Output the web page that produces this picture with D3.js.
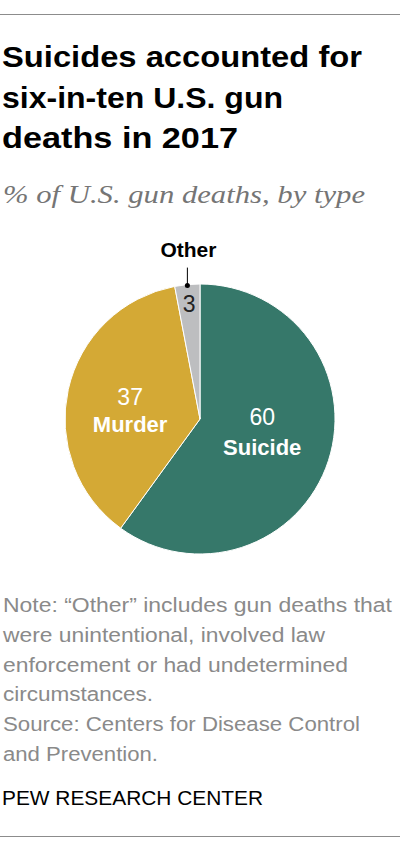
<!DOCTYPE html>
<html>
<head>
<meta charset="utf-8">
<script src="https://cdn.jsdelivr.net/npm/d3@7"></script>
<style>
  html, body { margin: 0; padding: 0; background: #fff; }
  svg { display: block; }
</style>
</head>
<body>
<script>
// ---- data ----
const categories = ["Suicide", "Murder", "Other"];
const values = [60, 37, 3];
const titleLines = ["Suicides accounted for", "six-in-ten U.S. gun", "deaths in 2017"];
const subtitle = "% of U.S. gun deaths, by type";
const noteLines = [
  "Note: \u201cOther\u201d includes gun deaths that",
  "were unintentional, involved law",
  "enforcement or had undetermined",
  "circumstances.",
  "Source: Centers for Disease Control",
  "and Prevention."
];
const footer = "PEW RESEARCH CENTER";

// ---- drawing ----
const W = 400, H = 850;
const svg = d3.select("body").append("svg").attr("width", W).attr("height", H);

// rules
svg.append("line").attr("x1", 0).attr("x2", W).attr("y1", 14.5).attr("y2", 14.5)
  .attr("stroke", "#8c8c8c").attr("stroke-width", 1);
svg.append("line").attr("x1", 0).attr("x2", W).attr("y1", 836.5).attr("y2", 836.5)
  .attr("stroke", "#8c8c8c").attr("stroke-width", 1);

// title
const titleWidths = [360, 281, 236];
svg.append("g").selectAll("text").data(titleLines).join("text")
  .attr("x", 2).attr("y", (d, i) => 67 + i * 40.5)
  .attr("font-family", "'Liberation Sans', Arial, sans-serif")
  .attr("font-weight", "bold").attr("font-size", 29).attr("fill", "#000")
  .attr("textLength", (d, i) => titleWidths[i]).attr("lengthAdjust", "spacingAndGlyphs")
  .text(d => d);

// subtitle
svg.append("text").attr("x", 3).attr("y", 203)
  .attr("font-family", "'Liberation Serif', Georgia, serif")
  .attr("font-style", "italic").attr("font-size", 26).attr("fill", "#757575")
  .attr("textLength", 362).attr("lengthAdjust", "spacingAndGlyphs")
  .text(subtitle);

// pie
const cx = 200, cy = 419, R = 135;
const color = d3.scaleOrdinal().domain(categories).range(["#36786a", "#d4a935", "#bdbec0"]);
const data = categories.map((c, i) => ({ cat: c, value: values[i] }));
const pie = d3.pie().sort(null).value(d => d.value).startAngle(0).endAngle(2 * Math.PI);
const arcs = pie(data);
const arc = d3.arc().innerRadius(0).outerRadius(R);
const g = svg.append("g").attr("transform", `translate(${cx},${cy})`);
g.selectAll("path").data(arcs).join("path")
  .attr("d", arc)
  .attr("fill", d => color(d.data.cat))
  .attr("stroke", "#fff").attr("stroke-width", 1);

const fontSans = "'Liberation Sans', Arial, sans-serif";
const labelArc = d3.arc().innerRadius(R * 0.5).outerRadius(R * 0.5);

// big slices: value + name inside
const inner = arcs.filter(d => d.data.cat !== "Other");
const nudge = { Suicide: { dx: -2, num: -15, name: 15 }, Murder: { dx: -4, num: 1, name: 28 } };
inner.forEach(d => {
  const [x, y] = labelArc.centroid(d);
  const n = nudge[d.data.cat];
  g.append("text").attr("x", x + n.dx).attr("y", y + n.num)
    .attr("text-anchor", "middle").attr("font-family", fontSans)
    .attr("font-size", 23).attr("fill", "#fff").text(d.data.value);
  g.append("text").attr("x", x + n.dx).attr("y", y + n.name)
    .attr("text-anchor", "middle").attr("font-family", fontSans)
    .attr("font-weight", "bold").attr("font-size", 22).attr("fill", "#fff").text(d.data.cat);
});

// small slice: value inside, name outside with leader
const other = arcs.find(d => d.data.cat === "Other");
const mid = (other.startAngle + other.endAngle) / 2;
const px = r => r * Math.sin(mid), py = r => -r * Math.cos(mid);
g.append("text").attr("x", px(116)).attr("y", py(116) + 8)
  .attr("text-anchor", "middle").attr("font-family", fontSans)
  .attr("font-size", 23).attr("fill", "#222").text(other.data.value);
g.append("line").attr("x1", px(134)).attr("y1", py(134))
  .attr("x2", px(134)).attr("y2", py(134) - 18)
  .attr("stroke", "#000").attr("stroke-width", 1);
g.append("circle").attr("cx", px(134)).attr("cy", py(134)).attr("r", 2.5).attr("fill", "#000");
g.append("text").attr("x", px(134) + 1).attr("y", py(134) - 29)
  .attr("text-anchor", "middle").attr("font-family", fontSans)
  .attr("font-weight", "bold").attr("font-size", 21).attr("fill", "#000").text(other.data.cat);

// note
const noteWidths = [389, 322, 345, 150, 357, 155];
svg.append("g").selectAll("text").data(noteLines).join("text")
  .attr("x", 3).attr("y", (d, i) => 612 + i * 29.8)
  .attr("font-family", fontSans).attr("font-size", 20).attr("fill", "#8a8a8a")
  .attr("textLength", (d, i) => noteWidths[i]).attr("lengthAdjust", "spacingAndGlyphs")
  .text(d => d);

// footer
svg.append("text").attr("x", 2).attr("y", 805)
  .attr("font-family", fontSans).attr("font-size", 21).attr("fill", "#000")
  .attr("textLength", 261).attr("lengthAdjust", "spacingAndGlyphs")
  .text(footer);
</script>
</body>
</html>
